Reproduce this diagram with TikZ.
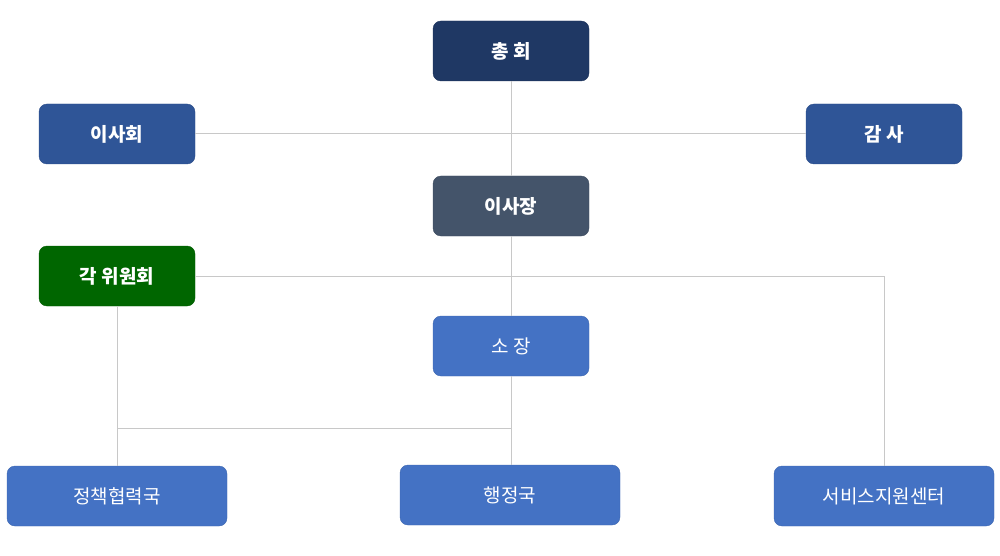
\documentclass[tikz,border=0pt]{standalone}
\usepackage{fontspec}
\setmainfont{Noto Sans CJK KR}
\usetikzlibrary{positioning}

\definecolor{navy}{HTML}{1F3864}
\definecolor{board}{HTML}{2F5597}
\definecolor{slate}{HTML}{44546A}
\definecolor{cmte}{HTML}{006600}
\definecolor{dept}{HTML}{4472C4}
\definecolor{wire}{HTML}{C8C8C8}

\begin{document}
\begin{tikzpicture}[
        x=1pt, y=-1pt,
        box/.style={
            rounded corners=8pt,
            minimum width=156pt,
            minimum height=60pt,
            inner sep=0pt,
            text=white,
            font=\fontsize{19pt}{22pt}\selectfont
        },
        topbox/.style={box,font=\fontsize{19pt}{22pt}\selectfont\bfseries},
        widebox/.style={box,minimum width=220pt,fill=dept,draw=dept!90!black},
        link/.style={wire,line width=1pt}
    ]
    \useasboundingbox (0,0) rectangle (1000,556);
    \node[topbox,fill=navy,draw=navy!90!black] (chonghoe) at (511,51) {총 회};
    \node[topbox,fill=board,draw=board!90!black] (isahoe) at (117,134) {이사회};
    \node[topbox,fill=board,draw=board!90!black] (gamsa) at (884,134) {감 사};
    \node[topbox,fill=slate,draw=slate!90!black] (isajang) at (511,206) {이사장};
    \node[topbox,fill=cmte,draw=cmte!90!black] (wiwon) at (117,276) {각 위원회};
    \node[box,fill=dept,draw=dept!90!black] (sojang) at (511,346) {소 장};
    \node[widebox] (jeongchaek) at (117,496) {정책협력국};
    \node[widebox] (haengjeong) at (510,495) {행정국};
    \node[widebox] (seobiseu) at (884,496) {서비스지원센터};
    \coordinate (jct) at (511,428);
    % connectors
    \draw[link] (chonghoe.south) -- (isajang.north);
    \draw[link] (isahoe.east) -- (gamsa.west);
    \draw[link] (isajang.south) -- (sojang.north);
    \draw[link] (wiwon.east) -| (seobiseu.north);
    \draw[link] (wiwon.south) -- (jeongchaek.north);
    \draw[link] (sojang.south) -- (sojang.south |- haengjeong.north);
    \draw[link] (jct) -- (jct -| wiwon.south);
\end{tikzpicture}
\end{document}
